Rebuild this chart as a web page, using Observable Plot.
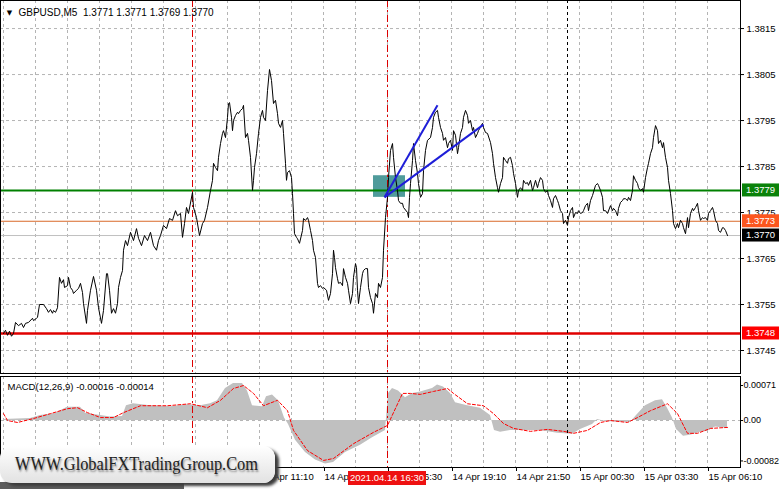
<!DOCTYPE html>
<html><head><meta charset="utf-8">
<script src="https://cdn.jsdelivr.net/npm/d3@7"></script>
<script src="https://cdn.jsdelivr.net/npm/@observablehq/plot@0.6"></script>
<style>
body{margin:0;background:#fff;}
#wrap{position:relative;width:781px;height:489px;overflow:hidden;background:#fff;font-family:"Liberation Sans",Arial,sans-serif;}
#main,#macd{position:absolute;left:0;}
#main{top:0}
#macd{top:374px}
#wmShadow{position:absolute;left:0;top:482px;width:184px;height:7px;background:#5c5c5c;}
#wm{position:absolute;left:0;top:446px;width:275px;height:37px;border-radius:12px;background:linear-gradient(#ffffff,#e2e2e2);box-shadow:4px 3px 3px #3c3c3c;overflow:hidden;}
#wm span{position:absolute;left:15px;top:7px;font-family:"Liberation Serif","DejaVu Serif",serif;font-size:19px;color:#222;white-space:nowrap;transform-origin:0 0;transform:scaleX(0.86);text-shadow:1px 2px 2px #8a8a8a;}
</style></head><body>
<div id="wrap"><div id="main"></div><div id="macd"></div><div id="wmShadow"></div><div id="wm"><span>WWW.GlobalFXTradingGroup.Com</span></div></div>
<script>
// ---- data ----
const symbolTitle = "GBPUSD,M5  1.3771 1.3771 1.3769 1.3770";
const macdTitle = "MACD(12,26,9) -0.00016 -0.00014";

// bar index (M5 bars) and close price
const priceBar = [0,1,2,3,4,5,6,7.5,9,10,11,12.5,14.5,15,16.5,17,18,20,21.5,22.5,23.5,24.5,25,26,27,28,29,30,30.5,32,32.5,33.5,34.5,35,36.5,37.5,38.5,39.5,40,41.5,42,43.5,45,46.5,47.5,49,50,51.5,52,53,54,55,56,57,57.5,58.5,59.5,60,
61,62,63.5,65,66.5,67.5,69,70.5,72,73.5,75,76.5,77.5,78.5,80,81.5,83,84.5,86,87,88.5,
89.5,90.5,91.5,92.5,94.5,95,96.5,98,99.5,100.5,102,103.5,104.5,105,106,107,107.5,108.5,109.5,110,111,112,112.5,113,114,114.5,115,116,117,117.5,118.5,119.5,120,121,122,122.5,123.5,124.5,125,125.5,126.5,127.5,128.5,129.5,130,131,132,133,134,135,136,137,137.5,138.5,139.5,140,141,141.5,142,143,144,144.5,145,145.5,146.5,147,148,149.5,150,151,152,152.5,153.5,154.5,155,156,157,157.5,158.5,159.5,160,161.5,162.5,163.5,164.5,165,165.5,166,167,167.5,168.5,169.5,170,171,172,172.5,173.5,174.5,175,176,176.5,177,177.5,178.5,179.5,180,181,182,182.5,183.5,184.5,185,186,187,187.5,188.5,189.5,190,191,192,192.5,193.5,194.5,195,196,197,197.5,198.5,199.5,200,202,202.5,203,203.5,204.5,205,206,207,207.5,208.5,209.5,210,211,212,213.5,214.5,215,216,217,217.5,218.5,219.5,220,221,222,222.5,223.5,224.5,225,226,227,227.5,228.5,229.5,230,231,232,232.5,233.5,234.5,235,236,237,237.5,239.5,240,241,242,243.5,244.5,245,246,247,247.5,248.5,249.5,250,251,252,252.5,253.5,254.5,255,256,257,257.5,258.5,259.5,260,261,262,262.5,263.5,264.5,265,266,267,267.5,268.5,269.5,270,271,272,272.5,273.5,274.5,275,276,277,277.5,278.5,279.5,280,281,282,282.5,283.5,284.5,285,286,287,287.5,288.5,289.5,290,291,292,292.5,293.5,294.5,296,297,297.5,298.5,299.5,300,301,302,303.5,304.5,305,306,307,307.5,308.5,309.5,310,311,312,312.5,313.5,314.5,315,316,317,317.5,318.5,319.5,320,321,322,322.5,323.5,324.5,325,326,327,327.5,328.5,329.5,330,331,332,332.5,333.5,334.5,335,336,337,337.5,338.5,339.5,340,341,342,342.5,343.5,344.5,345,346,347,347.5,348.5,349.5,350,351,352,352.5,353.5,354.5,355,356,357,357.5,358.5,359.5,360,361,362];
const priceClose = [1.37487,1.37494,1.37483,1.37492,1.37481,1.37487,1.37511,1.37504,1.37509,1.37500,1.37509,1.37511,1.37520,1.37515,1.37520,1.37522,1.37550,1.37550,1.37541,1.37533,1.37539,1.37531,1.37537,1.37533,1.37543,1.37609,1.37596,1.37604,1.37587,1.37591,1.37609,1.37587,1.37581,1.37574,1.37581,1.37585,1.37596,1.37576,1.37552,1.37509,1.37537,1.37581,1.37611,1.37581,1.37543,1.37509,1.37537,1.37617,1.37617,1.37581,1.37531,1.37541,1.37531,1.37552,1.37587,1.37609,1.37624,1.37668,
1.37689,1.37678,1.37707,1.37689,1.37715,1.37694,1.37678,1.37700,1.37689,1.37707,1.37678,1.37668,1.37689,1.37700,1.37722,1.37715,1.37737,1.37733,1.37754,1.37743,1.37748,
1.37696,1.37726,1.37761,1.37748,1.37794,1.37761,1.37739,1.37700,1.37726,1.37733,1.37761,1.37798,1.37820,1.37857,1.37848,1.37841,1.37870,1.37900,1.37922,1.37928,1.37913,1.37957,1.37987,1.37989,1.37957,1.37928,1.37950,1.37961,1.37968,1.37965,1.37972,1.37976,1.37983,1.37913,1.37922,1.37907,1.37870,1.37798,1.37820,1.37848,1.37878,1.37922,1.37957,1.37972,1.37957,1.37950,1.38015,1.38061,1.38037,1.37987,1.37994,1.37965,1.37944,1.37935,1.37950,1.37922,1.37857,1.37820,1.37837,1.37841,1.37826,1.37791,1.37748,1.37704,1.37696,1.37693,1.37683,1.37711,1.37737,1.37733,1.37739,1.37733,1.37711,1.37689,1.37668,1.37652,1.37596,1.37587,1.37591,1.37585,1.37587,1.37581,1.37559,1.37574,1.37617,1.37668,1.37652,1.37630,1.37606,1.37596,1.37598,1.37591,1.37628,1.37609,1.37596,1.37581,1.37552,1.37574,1.37609,1.37639,1.37630,1.37581,1.37552,1.37587,1.37617,1.37624,1.37628,1.37628,1.37587,1.37565,1.37552,1.37531,1.37574,1.37565,1.37596,1.37587,1.37609,1.37668,1.37739,1.37783,1.37826,1.37885,1.37900,1.37870,1.37826,1.37798,1.37776,1.37770,1.37770,1.37761,1.37750,1.37739,1.37783,1.37813,1.37863,1.37900,1.37863,1.37835,1.37813,1.37783,1.37791,1.37841,1.37885,1.37907,1.37913,1.37935,1.37957,1.37968,1.37972,1.37957,1.37935,1.37922,1.37907,1.37913,1.37891,1.37900,1.37907,1.37885,1.37928,1.37918,1.37878,1.37891,1.37922,1.37935,1.37957,1.37972,1.37961,1.37944,1.37950,1.37928,1.37935,1.37913,1.37922,1.37928,1.37944,1.37935,1.37924,1.37922,1.37902,1.37878,1.37857,1.37826,1.37804,1.37794,1.37813,1.37826,1.37870,1.37863,1.37857,1.37867,1.37870,1.37852,1.37835,1.37813,1.37783,1.37798,1.37804,1.37798,1.37820,1.37813,1.37815,1.37809,1.37820,1.37798,1.37804,1.37820,1.37804,1.37813,1.37826,1.37820,1.37802,1.37794,1.37798,1.37787,1.37776,1.37761,1.37780,1.37787,1.37776,1.37770,1.37754,1.37748,1.37726,1.37733,1.37722,1.37739,1.37754,1.37761,1.37739,1.37750,1.37748,1.37754,1.37748,1.37750,1.37754,1.37765,1.37770,1.37754,1.37776,1.37787,1.37809,1.37813,1.37809,1.37798,1.37783,1.37754,1.37754,1.37748,1.37765,1.37754,1.37759,1.37754,1.37743,1.37759,1.37772,1.37776,1.37780,1.37780,1.37776,1.37783,1.37776,1.37798,1.37830,1.37820,1.37813,1.37804,1.37798,1.37802,1.37794,1.37826,1.37848,1.37857,1.37878,1.37891,1.37913,1.37939,1.37928,1.37900,1.37907,1.37891,1.37902,1.37870,1.37848,1.37820,1.37791,1.37754,1.37726,1.37715,1.37726,1.37717,1.37733,1.37726,1.37717,1.37704,1.37739,1.37717,1.37748,1.37759,1.37754,1.37761,1.37770,1.37754,1.37733,1.37739,1.37737,1.37739,1.37733,1.37748,1.37754,1.37761,1.37754,1.37733,1.37726,1.37711,1.37707,1.37717,1.37717,1.37711,1.37700];

// MACD histogram (main line) and signal line
const histBar = [0,13.5,18.5,26,28.5,32,38.5,41,48.5,53.5,59.5,61.5,65,73.5,83.5,92,98.5,103.5,107,111,115,119.5,122,124.5,129.5,131.5,134.5,137.5,140.5,142.5,146,151,156,161,165,171,178.5,184.5,191,192.5,194.5,197.5,201,204.5,208.5,214.5,217,220,223.5,226,232,238.5,243.5,245.5,248.5,253.5,268.5,277,284.5,288.5,294.5,297,301,313.5,316.5,321,326,329.5,332,334.5,336.5,340,343.5,348.5,352,356,362];
const histVal = [0.00002,0.00004,0.00010,0.00014,0.00020,0.00027,0.00027,0.00015,0.00010,0.00007,0.00008,0.00030,0.00034,0.00030,0.00028,0.00032,0.00030,0.00034,0.00040,0.00065,0.00075,0.00075,0.00060,0.00030,0.00028,0.00048,0.00052,0.00040,0.00005,-0.00008,-0.00040,-0.00065,-0.00080,-0.00088,-0.00085,-0.00065,-0.00050,-0.00035,-0.00020,0.00055,0.00065,0.00060,0.00046,0.00055,0.00058,0.00065,0.00072,0.00068,0.00055,0.00036,0.00030,0.00025,0.00010,-0.00020,-0.00024,-0.00020,-0.00020,-0.00026,-0.00028,-0.00018,-0.00008,0.00002,-0.00002,-0.00004,0.00010,0.00030,0.00040,0.00042,0.00025,0.00005,-0.00018,-0.00032,-0.00030,-0.00024,-0.00022,-0.00013,-0.00016];
const signalBar = [0,2,7,15,23.5,32,37,42,48.5,55,60,68.5,82,93.5,102,108.5,115,120,125,130,137,142,145,152,160,165,175,185,192,199.5,203.5,208.5,215,222,225,232,240,245,250,255,263.5,272,280,285,292,298.5,303.5,312,317,323.5,332,337,342,347,353.5,362];
const signalVal = [0.00014,0.00000,-0.00004,0.00004,0.00014,0.00024,0.00026,0.00016,0.00006,0.00006,0.00016,0.00030,0.00030,0.00034,0.00026,0.00041,0.00065,0.00071,0.00055,0.00030,0.00041,0.00020,-0.00020,-0.00061,-0.00081,-0.00077,-0.00047,-0.00024,-0.00010,0.00055,0.00055,0.00053,0.00059,0.00065,0.00055,0.00034,0.00030,0.00014,-0.00006,-0.00016,-0.00022,-0.00018,-0.00022,-0.00026,-0.00020,-0.00004,0.00000,-0.00004,0.00006,0.00020,0.00034,0.00014,-0.00026,-0.00026,-0.00016,-0.00014];

// horizontal levels
const levelValues = [1.37798, 1.37731, 1.37700, 1.37487];
const levelLabels = ["1.3779", "1.3773", "1.3770", "1.3748"];
const levelStroke = ["#008000", "#d9692a", "#c0c0c0", "#e00000"];
const levelWidth = [2, 1, 1, 2.5];
const levelTagFill = ["#0a820a", "#fb561e", "#000000", "#ff0000"];

// axes
const priceTicks = [1.3745, 1.3755, 1.3765, 1.3775, 1.3785, 1.3795, 1.3805, 1.3815];
const macdTicks = [0.00071, 0, -0.00082];
const macdTickLabels = ["0.00071", "0.00", "-0.00082"];
const timeTickBars = [128, 160, 192, 224, 256, 288, 320, 352];
const timeTickLabels = ["14 Apr 11:10","14 Apr 13:50","14 Apr 16:30","14 Apr 19:10","14 Apr 21:50","15 Apr 00:30","15 Apr 03:30","15 Apr 06:10"];
const gridBars = [0,16,32,48,64,80,96,112,128,144,160,176,192,208,224,240,256,272,288,304,320,336,352];

// vertical separators
const redSepBars = [94.5, 192];
const blackSepBars = [282];
const sepDateLabel = "2021.04.14 16:30";

// drawn objects
const zoneBars = [185, 201];
const zonePrices = [1.37783, 1.37830];
const trendStart = {bar: 190.5, price: 1.37783};
const trendEndBars = [217, 240];
const trendEndPrices = [1.37983, 1.37941];

// ---- build ----
const X_DOMAIN = [-1.5, 368.5];
const FONT = "'Liberation Sans', Arial, sans-serif";
const priceData = priceBar.map((b, k) => ({b, p: priceClose[k]}));
const histData = histBar.map((b, k) => ({b, v: histVal[k]}));
const sigData = signalBar.map((b, k) => ({b, v: signalVal[k]}));
const trendData = trendEndBars.map((b, k) => ({x1: trendStart.bar, y1: trendStart.price, x2: b, y2: trendEndPrices[k]}));
const zoneData = [{x1: zoneBars[0], x2: zoneBars[1], y1: zonePrices[0], y2: zonePrices[1]}];
const levelData = levelValues.map((v, k) => ({v, stroke: levelStroke[k], w: levelWidth[k]}));
const macdLabelMap = new Map(macdTicks.map((t, k) => [t, macdTickLabels[k]]));
const timeLabelMap = new Map(timeTickBars.map((t, k) => [t, timeTickLabels[k]]));

function priceTags(index, scales, values, dims) {
  const g = d3.create("svg:g");
  const x0 = dims.width - dims.marginRight + 2;
  levelValues.forEach((v, k) => {
    const y = scales.y(v);
    g.append("rect").attr("x", x0).attr("y", y - 6.5).attr("width", 37).attr("height", 13).attr("fill", levelTagFill[k]);
    g.append("text").attr("x", x0 + 4).attr("y", y).attr("dy", "0.35em").attr("text-anchor", "start")
      .attr("fill", "white").attr("font-family", FONT).attr("font-size", "9.5px").text(levelLabels[k]);
  });
  return g.node();
}

function dateTag(index, scales, values, dims) {
  const g = d3.create("svg:g");
  const x = scales.x(redSepBars[1]);
  const yTop = dims.height - dims.marginBottom + 4;
  g.append("rect").attr("x", x - 39).attr("y", yTop).attr("width", 78).attr("height", 14).attr("fill", "#ee1111");
  g.append("text").attr("x", x).attr("y", yTop + 7).attr("dy", "0.35em").attr("text-anchor", "middle")
    .attr("fill", "white").attr("font-family", FONT).attr("font-size", "9.5px").text(sepDateLabel);
  return g.node();
}

const gridStyle = {stroke: "#b4b4b4", strokeOpacity: 1, strokeDasharray: "3,3"};

const main = Plot.plot({
  width: 781, height: 374,
  marginLeft: 0, marginRight: 41, marginTop: 0, marginBottom: 1,
  x: {domain: X_DOMAIN, axis: null},
  y: {domain: [1.37400, 1.38211], axis: null},
  style: {fontFamily: FONT, fontSize: "9.5px", background: "white", color: "black", overflow: "visible"},
  marks: [
    Plot.gridY(priceTicks, gridStyle),
    Plot.gridX(gridBars, gridStyle),
    Plot.rect(zoneData, {x1: "x1", x2: "x2", y1: "y1", y2: "y2", fill: "#4f9b9b"}),
    ...levelData.map(d => Plot.ruleY([d.v], {stroke: d.stroke, strokeWidth: d.w})),
    Plot.ruleX(redSepBars, {stroke: "#dd0000", strokeDasharray: "7,3,2,3"}),
    Plot.ruleX(blackSepBars, {stroke: "black", strokeDasharray: "3,3"}),
    Plot.line(priceData, {x: "b", y: "p", stroke: "black", strokeWidth: 1}),
    Plot.link(trendData, {x1: "x1", y1: "y1", x2: "x2", y2: "y2", stroke: "#1e1ed8", strokeWidth: 2}),
    Plot.axisY({anchor: "right", label: null, ticks: priceTicks, tickFormat: d => d.toFixed(4), tickSize: 3, tickPadding: 3}),
    Plot.frame({stroke: "black"}),
    priceTags,
    Plot.text(["▼"], {frameAnchor: "top-left", dx: 9, dy: 12, lineAnchor: "middle", textAnchor: "middle", fontSize: 7, fontFamily: "DejaVu Sans"}),
    Plot.text([symbolTitle], {frameAnchor: "top-left", dx: 18, dy: 12, lineAnchor: "middle", textAnchor: "start", fontSize: 10})
  ]
});
document.getElementById("main").appendChild(main);

const macd = Plot.plot({
  width: 781, height: 115,
  marginLeft: 0, marginRight: 41, marginTop: 2, marginBottom: 22,
  x: {domain: X_DOMAIN, axis: null},
  y: {domain: [-0.000953, 0.000893], axis: null},
  style: {fontFamily: FONT, fontSize: "9.5px", background: "white", color: "black", overflow: "visible"},
  marks: [
    Plot.gridX(gridBars, gridStyle),
    Plot.ruleY([0], gridStyle),
    Plot.areaY(histData, {x: "b", y: "v", fill: "#c0c0c0"}),
    Plot.line(sigData, {x: "b", y: "v", stroke: "#ff0000", strokeWidth: 1, strokeDasharray: "3,2"}),
    Plot.ruleX(redSepBars, {stroke: "#dd0000", strokeDasharray: "7,3,2,3"}),
    Plot.ruleX(blackSepBars, {stroke: "black", strokeDasharray: "3,3"}),
    Plot.axisY({anchor: "right", label: null, ticks: macdTicks, tickFormat: d => macdLabelMap.get(d), tickSize: 2, tickPadding: 1, fontSize: 9}),
    Plot.axisX({anchor: "bottom", label: null, ticks: timeTickBars, tickFormat: d => timeLabelMap.get(d), tickSize: 4, tickPadding: 2, textAnchor: "start", dx: 1}),
    Plot.frame({stroke: "black"}),
    Plot.text([macdTitle], {frameAnchor: "top-left", dx: 7, dy: 10, lineAnchor: "middle", textAnchor: "start"}),
    dateTag
  ]
});
document.getElementById("macd").appendChild(macd);
</script>
</body></html>
